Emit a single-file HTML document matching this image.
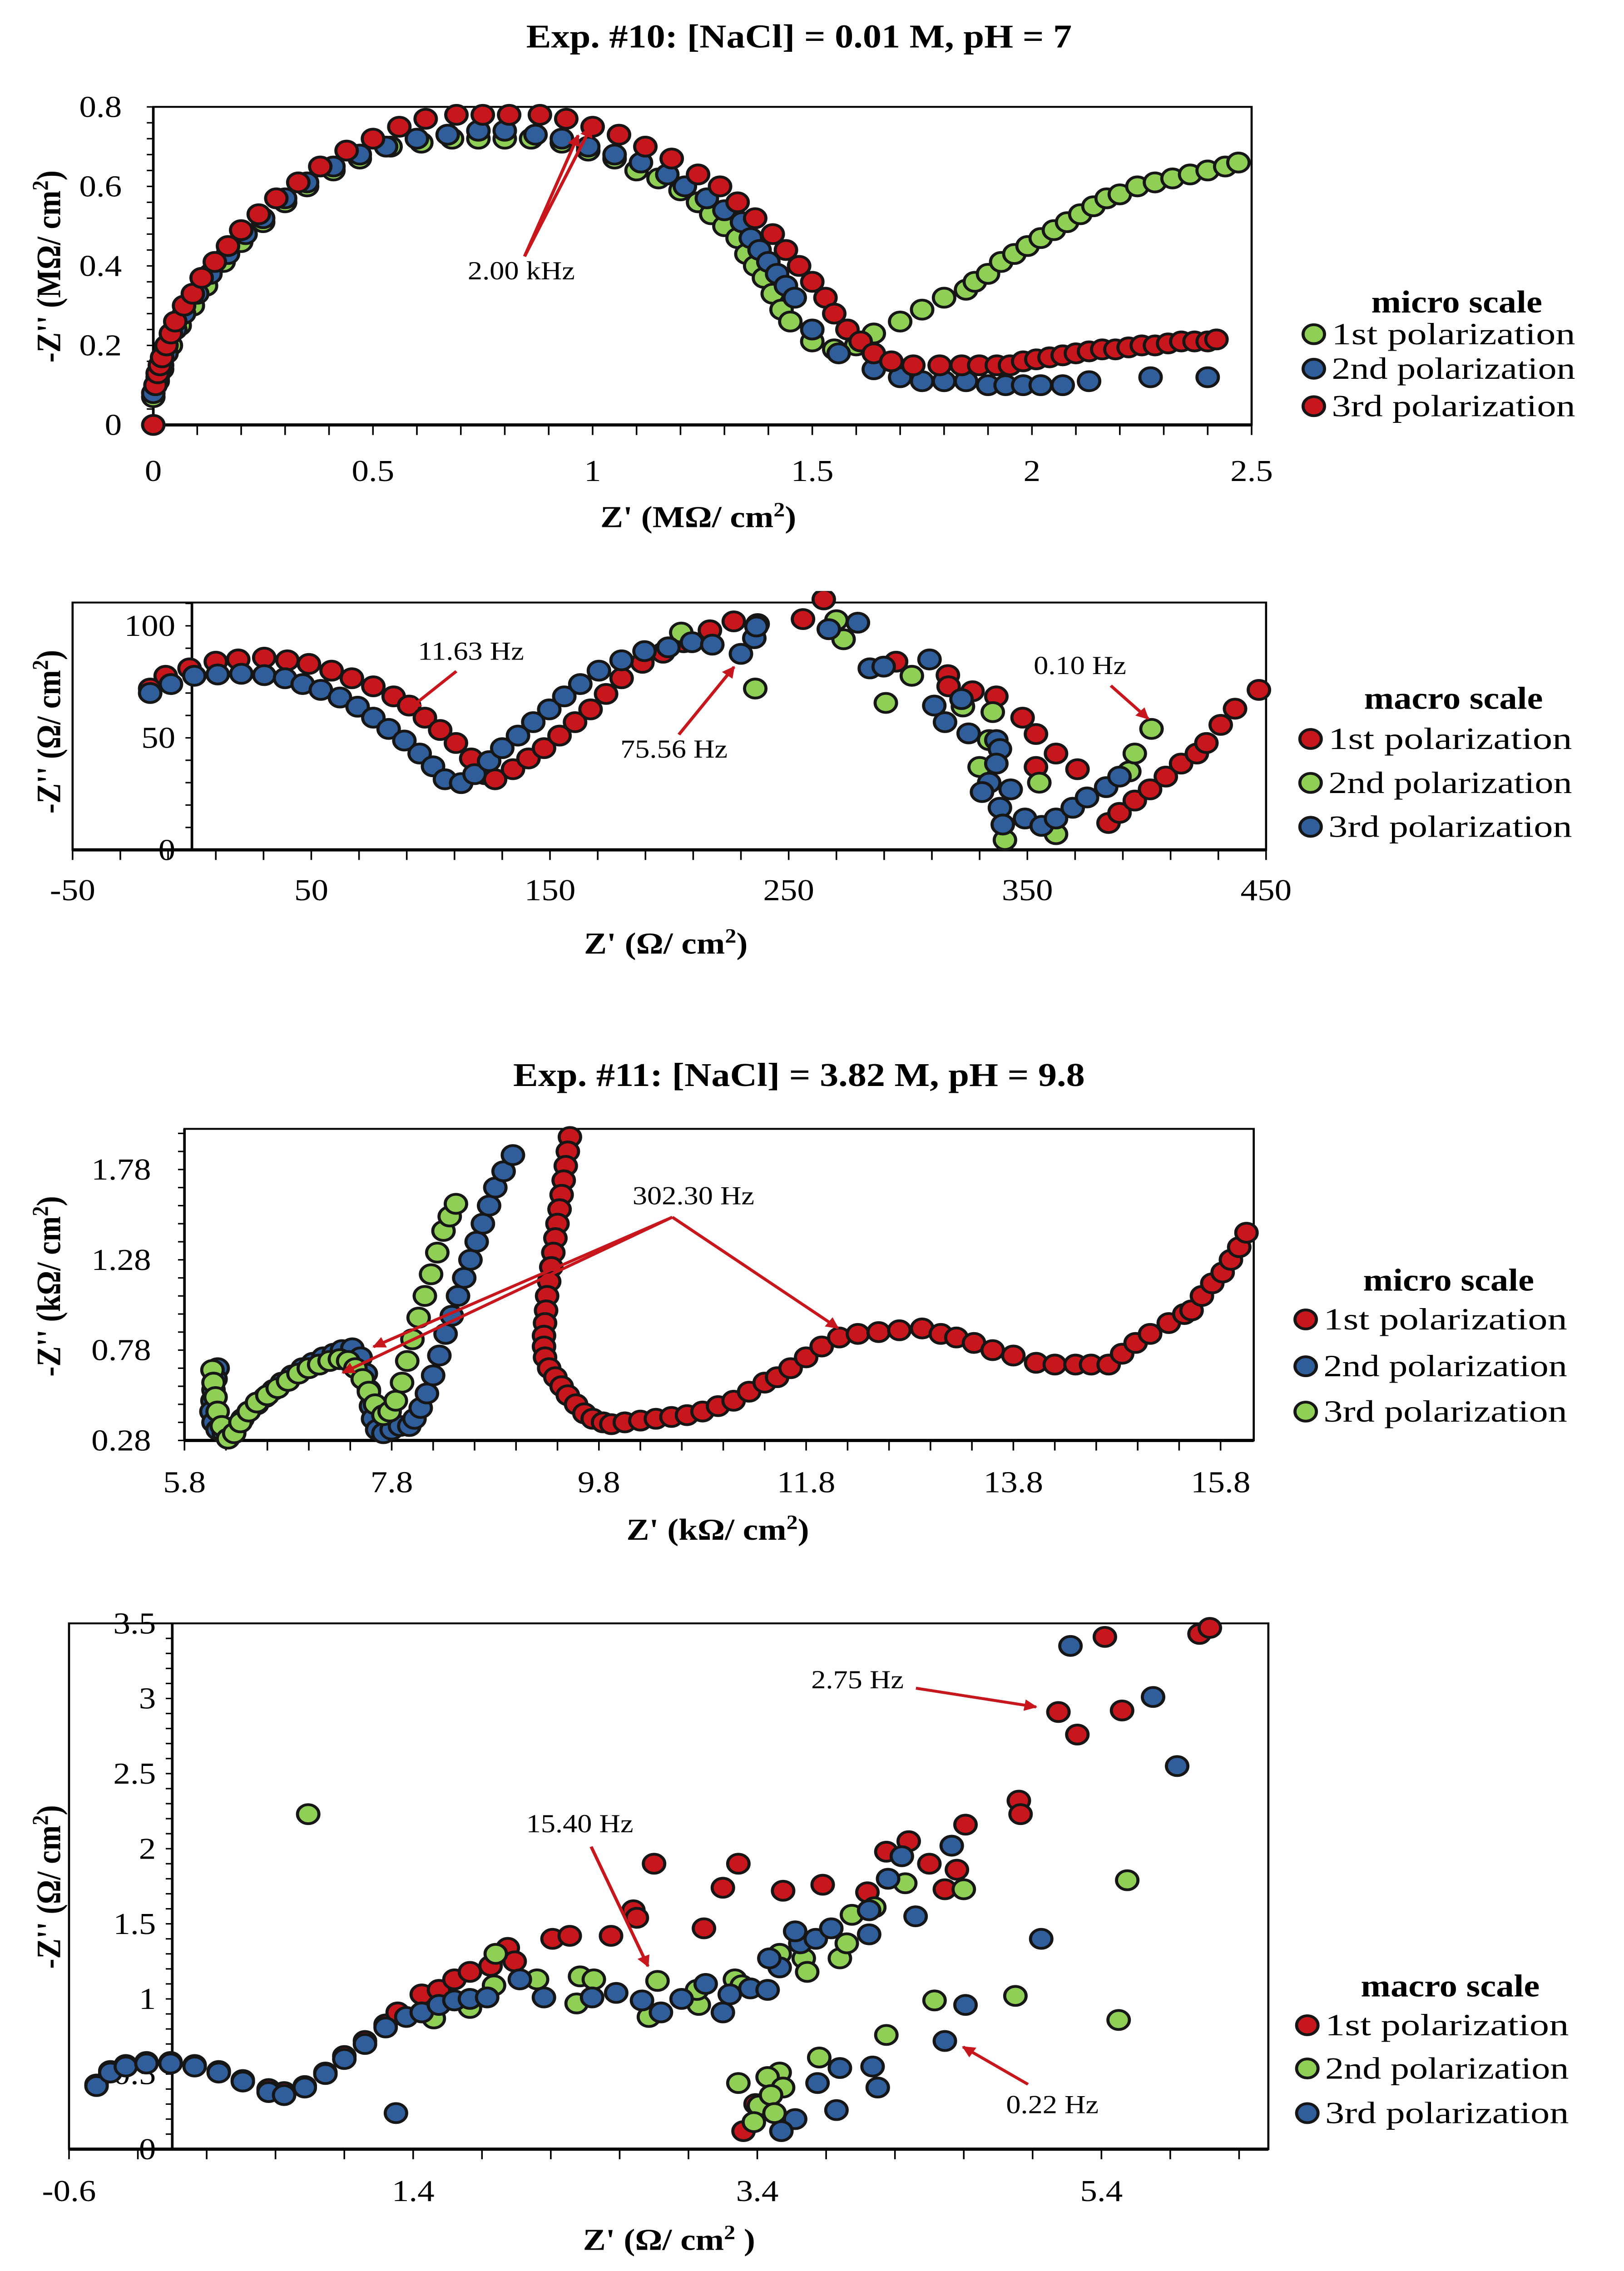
<!DOCTYPE html>
<html><head><meta charset="utf-8"><style>
html,body{margin:0;padding:0;background:#fff;width:100vw;height:100vh;overflow:hidden;}
svg{display:block;position:absolute;left:0;top:0;width:100vw;height:100vh;font-family:"Liberation Serif",serif;}
</style></head><body>
<svg id="fig" viewBox="0 0 1000 1576.6" preserveAspectRatio="none" xmlns="http://www.w3.org/2000/svg">
<rect width="1000" height="1576.6" fill="#fff"/>
<text x="492" y="33" text-anchor="middle" font-size="23" font-weight="bold">Exp. #10: [NaCl] = 0.01 M, pH = 7</text>
<text x="492" y="754" text-anchor="middle" font-size="23" font-weight="bold">Exp. #11: [NaCl] = 3.82 M, pH = 9.8</text>
</svg>
<script>
// ---------- DATA ----------
const c1Green = [[0,0.07],[0.01,0.11],[0.02,0.14],[0.04,0.2],[0.06,0.25],[0.09,0.3],[0.12,0.35],[0.16,0.41],[0.2,0.46],[0.25,0.51],[0.3,0.56],[0.35,0.6],[0.41,0.64],[0.47,0.67],[0.54,0.7],[0.61,0.71],[0.68,0.72],[0.74,0.72],[0.8,0.72],[0.86,0.72],[0.93,0.71],[0.99,0.69],[1.05,0.67],[1.1,0.64],[1.15,0.62],[1.2,0.59],[1.24,0.56],[1.27,0.53],[1.3,0.5],[1.33,0.47],[1.35,0.43],[1.37,0.4],[1.39,0.37],[1.41,0.33],[1.43,0.29],[1.45,0.26],[1.5,0.21],[1.55,0.19],[1.6,0.2],[1.64,0.23],[1.7,0.26],[1.75,0.29],[1.8,0.32],[1.85,0.34],[1.87,0.36],[1.9,0.38],[1.93,0.41],[1.96,0.43],[1.99,0.45],[2.02,0.47],[2.05,0.49],[2.08,0.51],[2.11,0.53],[2.14,0.55],[2.17,0.57],[2.2,0.58],[2.24,0.6],[2.28,0.61],[2.32,0.62],[2.36,0.63],[2.4,0.64],[2.44,0.65],[2.47,0.66]];
const c1Blue = [[0,0.08],[0.005,0.1],[0.01,0.12],[0.02,0.15],[0.03,0.18],[0.05,0.24],[0.07,0.28],[0.1,0.33],[0.13,0.38],[0.17,0.43],[0.21,0.48],[0.25,0.52],[0.3,0.57],[0.35,0.61],[0.41,0.65],[0.47,0.68],[0.53,0.7],[0.6,0.72],[0.67,0.73],[0.74,0.74],[0.8,0.74],[0.87,0.73],[0.93,0.72],[0.99,0.7],[1.05,0.68],[1.11,0.66],[1.17,0.63],[1.21,0.6],[1.26,0.57],[1.3,0.54],[1.34,0.51],[1.36,0.47],[1.38,0.44],[1.4,0.41],[1.42,0.38],[1.44,0.35],[1.46,0.32],[1.5,0.24],[1.56,0.18],[1.64,0.14],[1.7,0.12],[1.75,0.11],[1.8,0.11],[1.85,0.11],[1.9,0.1],[1.94,0.1],[1.98,0.1],[2.02,0.1],[2.07,0.1],[2.13,0.11],[2.27,0.12],[2.4,0.12]];
const c1Red = [[0,0],[0.005,0.1],[0.01,0.13],[0.015,0.15],[0.02,0.17],[0.03,0.2],[0.04,0.23],[0.05,0.26],[0.07,0.3],[0.09,0.33],[0.11,0.37],[0.14,0.41],[0.17,0.45],[0.2,0.49],[0.24,0.53],[0.28,0.57],[0.33,0.61],[0.38,0.65],[0.44,0.69],[0.5,0.72],[0.56,0.75],[0.62,0.77],[0.69,0.78],[0.75,0.78],[0.81,0.78],[0.88,0.78],[0.94,0.77],[1.0,0.75],[1.06,0.73],[1.12,0.7],[1.18,0.67],[1.24,0.63],[1.29,0.6],[1.33,0.56],[1.37,0.52],[1.41,0.48],[1.44,0.44],[1.47,0.4],[1.5,0.36],[1.53,0.32],[1.55,0.28],[1.58,0.24],[1.61,0.21],[1.64,0.18],[1.68,0.16],[1.73,0.15],[1.79,0.15],[1.84,0.15],[1.88,0.15],[1.92,0.15],[1.95,0.15],[1.98,0.16],[2.01,0.165],[2.04,0.17],[2.07,0.175],[2.1,0.18],[2.13,0.185],[2.16,0.19],[2.19,0.19],[2.22,0.195],[2.25,0.2],[2.28,0.2],[2.31,0.205],[2.34,0.21],[2.37,0.21],[2.4,0.21],[2.42,0.215]];
const c1XTicks = ["0","0.5","1","1.5","2","2.5"];
const c1XTickVals = [0,0.5,1,1.5,2,2.5];
const c1YTickVals = [0,0.2,0.4,0.6,0.8];
const c1YTicks = ["0","0.2","0.4","0.6","0.8"];

const c2Red = [[-17.5,72],[-11,77.7],[-1,81],[10,84],[19.4,85],[30.3,85.8],[40,84.6],[49,83],[58.5,80],[67,76.6],[76,73],[84.5,68.5],[91,64.4],[97.6,59],[104,53.5],[110.6,47.7],[117,40.8],[122.7,33.8],[127,31.5],[134.5,36],[141,40.8],[147.5,45.4],[154,51],[160.5,57],[167,62.7],[173.5,69.6],[180,76.6],[188.7,83.5],[197.4,88],[206,92.7],[217,98],[227,102],[237,100.8],[256,103],[264.7,111.8],[284,81],[295,84],[316.7,78],[317,73],[327,70.8],[337,68.5],[348,59],[353.6,51.7],[362,43],[353.6,37],[371,36],[384,12],[388.6,16.5],[395,22],[401.4,27],[408,32.7],[414.4,38.5],[421,43],[425,47.7],[431,55.8],[437,63],[447,71.4]];
const c2Green = [[205,97],[236,72],[270,102.5],[273,94],[290.7,65.6],[301.6,77.7],[323,64],[330,37],[335.5,61.5],[334,49],[340.6,4.4],[362,7],[355,30],[392.7,35],[395,43],[402,54]];
const c2Blue = [[-17.5,70],[-8.8,74],[1,77.7],[10.8,78.3],[20.7,78.6],[30.3,78],[39,76.6],[46.4,74],[54,71.4],[62,68],[69.4,63.9],[76,59],[82.4,54],[89,48.8],[95.4,43],[101,37.3],[106,31.5],[112.8,29.8],[118.4,33.8],[124.5,39.6],[130,45.4],[136.6,51],[143,57],[149.7,62.7],[156,68.5],[162.7,74],[170.5,80],[180,84.6],[189.6,88.7],[199.6,90.4],[209.5,92.7],[218,91.6],[230,87.5],[235.6,94.5],[236.5,99.7],[266.8,98.5],[279,101.4],[284,81],[289.8,81.8],[309,85],[311,64.4],[322.4,67.3],[315.5,57],[325.4,52],[337,49],[338.5,45],[337,38.5],[334,30],[331,25.8],[343,27],[338.5,18.8],[339.7,11.3],[349,14],[356,10.7],[362,14],[369,18.8],[375,23.4],[383,28],[388.6,32.7]];
const c2XTickVals = [-50,50,150,250,350,450];
const c2XTicks = ["-50","50","150","250","350","450"];
const c2YTickVals = [0,50,100];
const c2YTicks = ["0","50","100"];

const c3Red = [[9.52,1.96],[9.5,1.88],[9.48,1.8],[9.46,1.72],[9.44,1.64],[9.42,1.56],[9.4,1.48],[9.38,1.4],[9.36,1.32],[9.34,1.24],[9.32,1.16],[9.3,1.08],[9.29,1.0],[9.28,0.93],[9.27,0.86],[9.27,0.8],[9.28,0.74],[9.32,0.68],[9.38,0.63],[9.44,0.58],[9.5,0.53],[9.58,0.48],[9.66,0.43],[9.74,0.4],[9.84,0.38],[9.92,0.37],[10.05,0.38],[10.2,0.39],[10.35,0.4],[10.5,0.41],[10.65,0.42],[10.8,0.44],[10.95,0.47],[11.1,0.5],[11.25,0.55],[11.4,0.6],[11.52,0.63],[11.65,0.68],[11.8,0.74],[11.95,0.8],[12.12,0.85],[12.3,0.87],[12.5,0.88],[12.7,0.89],[12.92,0.9],[13.1,0.87],[13.25,0.85],[13.42,0.82],[13.6,0.78],[13.8,0.75],[14.02,0.71],[14.2,0.7],[14.4,0.7],[14.55,0.7],[14.72,0.7],[14.85,0.76],[14.98,0.82],[15.12,0.87],[15.3,0.93],[15.45,0.98],[15.52,1.0],[15.62,1.08],[15.72,1.15],[15.82,1.21],[15.9,1.28],[15.98,1.35],[16.05,1.43]];
const c3Blue = [[6.12,0.68],[6.1,0.62],[6.08,0.56],[6.07,0.5],[6.06,0.44],[6.08,0.38],[6.12,0.34],[6.18,0.32],[6.24,0.33],[6.3,0.36],[6.36,0.4],[6.42,0.44],[6.5,0.48],[6.58,0.52],[6.66,0.56],[6.74,0.6],[6.84,0.64],[6.94,0.68],[7.04,0.71],[7.14,0.74],[7.24,0.76],[7.32,0.78],[7.42,0.79],[7.5,0.74],[7.55,0.65],[7.58,0.56],[7.6,0.47],[7.62,0.4],[7.66,0.34],[7.72,0.32],[7.8,0.34],[7.88,0.36],[7.97,0.36],[8.02,0.4],[8.08,0.46],[8.14,0.54],[8.2,0.64],[8.26,0.75],[8.32,0.87],[8.38,0.97],[8.44,1.08],[8.5,1.18],[8.56,1.28],[8.62,1.38],[8.68,1.48],[8.74,1.58],[8.8,1.68],[8.88,1.77],[8.97,1.86]];
const c3Green = [[6.07,0.67],[6.08,0.6],[6.1,0.52],[6.12,0.44],[6.16,0.36],[6.22,0.29],[6.28,0.32],[6.34,0.38],[6.42,0.44],[6.5,0.49],[6.6,0.53],[6.7,0.57],[6.8,0.61],[6.9,0.65],[7.0,0.68],[7.1,0.7],[7.2,0.72],[7.3,0.73],[7.38,0.72],[7.45,0.68],[7.52,0.62],[7.58,0.55],[7.64,0.48],[7.72,0.42],[7.78,0.44],[7.84,0.5],[7.9,0.6],[7.95,0.72],[8.0,0.84],[8.06,0.96],[8.12,1.08],[8.18,1.2],[8.24,1.32],[8.3,1.44],[8.36,1.52],[8.42,1.59]];
const c3XTickVals = [5.8,7.8,9.8,11.8,13.8,15.8];
const c3XTicks = ["5.8","7.8","9.8","11.8","13.8","15.8"];
const c3YTickVals = [0.28,0.78,1.28,1.78];
const c3YTicks = ["0.28","0.78","1.28","1.78"];

const c4Red = [[-0.44,0.43],[-0.36,0.52],[-0.27,0.56],[-0.15,0.58],[-0.01,0.58],[0.13,0.56],[0.27,0.52],[0.41,0.46],[0.56,0.4],[0.65,0.38],[0.77,0.42],[0.89,0.51],[1.0,0.62],[1.12,0.72],[1.24,0.83],[1.31,0.91],[1.45,1.03],[1.55,1.06],[1.64,1.13],[1.73,1.18],[1.85,1.22],[1.95,1.34],[1.99,1.25],[2.21,1.4],[2.31,1.42],[2.55,1.42],[2.68,1.59],[2.7,1.54],[2.8,1.9],[3.2,1.74],[3.09,1.47],[3.29,1.9],[3.55,1.72],[3.78,1.76],[4.04,1.71],[4.15,1.98],[4.28,2.05],[4.4,1.9],[4.49,1.73],[4.56,1.86],[4.61,2.16],[4.92,2.32],[4.93,2.23],[5.15,2.91],[5.26,2.76],[5.42,3.41],[5.52,2.92],[5.97,3.43],[6.03,3.47],[3.32,0.12],[3.39,0.3]];
const c4Green = [[0.79,2.23],[5.55,1.79],[5.5,0.86],[4.9,1.02],[4.43,0.99],[4.6,1.73],[4.26,1.77],[4.15,0.76],[3.76,0.61],[3.53,0.51],[3.46,0.48],[3.29,0.44],[3.55,0.41],[3.41,0.29],[3.48,0.36],[3.38,0.18],[3.5,0.24],[1.88,1.3],[1.87,1.09],[1.73,0.94],[1.52,0.87],[2.12,1.13],[2.37,1.15],[2.45,1.13],[2.35,0.97],[2.82,1.12],[2.77,0.88],[3.06,0.96],[3.05,1.06],[3.27,1.13],[3.31,1.09],[3.53,1.3],[3.67,1.27],[3.69,1.18],[3.88,1.27],[3.92,1.37],[3.95,1.56],[4.08,1.61]];
const c4Blue = [[-0.44,0.42],[-0.36,0.51],[-0.27,0.55],[-0.15,0.57],[-0.01,0.57],[0.13,0.55],[0.27,0.51],[0.41,0.45],[0.56,0.38],[0.65,0.36],[0.77,0.41],[0.89,0.5],[1.0,0.6],[1.12,0.7],[1.24,0.81],[1.36,0.88],[1.45,0.91],[1.55,0.96],[1.64,0.99],[1.73,1.0],[1.83,1.01],[2.02,1.13],[2.16,1.01],[2.44,1.01],[2.58,1.04],[2.73,0.99],[2.84,0.91],[2.96,1.0],[3.1,1.1],[3.2,0.91],[3.24,1.03],[3.36,1.07],[3.46,1.06],[3.53,1.21],[3.47,1.27],[3.65,1.37],[3.62,1.45],[3.74,1.4],[3.83,1.47],[4.05,1.59],[4.16,1.8],[4.24,1.95],[4.32,1.55],[4.53,2.02],[1.3,0.24],[5.22,3.35],[5.7,3.01],[5.84,2.55],[5.05,1.4],[4.61,0.96],[4.49,0.72],[4.07,0.55],[4.1,0.41],[3.88,0.54],[3.86,0.26],[3.75,0.44],[3.62,0.2],[3.54,0.12],[4.05,1.43]];
const c4XTickVals = [-0.6,1.4,3.4,5.4];
const c4XTicks = ["-0.6","1.4","3.4","5.4"];
const c4YTickVals = [0,0.5,1,1.5,2,2.5,3,3.5];
const c4YTicks = ["0","0.5","1","1.5","2","2.5","3","3.5"];

// ---------- DRAWING ----------
const NS = "http://www.w3.org/2000/svg";
const svg = document.getElementById('fig');
const COL = {green:"#8fcf55", blue:"#2f5e9a", red:"#c8161d"};
function mk(tag, attrs, parent){const e=document.createElementNS(NS,tag);for(const k in attrs)e.setAttribute(k,attrs[k]);(parent||svg).appendChild(e);return e;}
function txt(s, attrs, parent){const e=mk('text',attrs,parent);e.textContent=s;return e;}

function chart(cfg){
  const g = mk('g',{});
  
  
  const sx = v => cfg.px0 + (v - cfg.xmin)/(cfg.xmax - cfg.xmin)*(cfg.px1 - cfg.px0);
  const sy = v => cfg.py1 - (v - cfg.ymin)/(cfg.ymax - cfg.ymin)*(cfg.py1 - cfg.py0);
  const frame = mk('rect',{x:cfg.px0,y:cfg.py0,width:cfg.px1-cfg.px0,height:cfg.py1-cfg.py0,fill:'none',stroke:'#000','stroke-width':1.3},g);
  
  
  const xa = mk('line',{x1:cfg.px0,x2:cfg.px1,y1:cfg.py1,y2:cfg.py1,stroke:'#000','stroke-width':2.2},g);
  
  
  const yx = sx(cfg.yAxisAt);
  const ya = mk('line',{x1:yx,x2:yx,y1:cfg.py0,y2:cfg.py1,stroke:'#000','stroke-width':1.6},g);
  
  
  for(let v=cfg.xTickStart; v<=cfg.xmax+1e-9; v+=cfg.xMinor){
    mk('line',{x1:sx(v),x2:sx(v),y1:cfg.py1,y2:cfg.py1+7,stroke:'#000','stroke-width':1},g);
  }
  for(let v=cfg.ymin; v<=cfg.ymax+1e-9; v+=cfg.yMinor){
    mk('line',{x1:yx-4,x2:yx,y1:sy(v),y2:sy(v),stroke:'#000','stroke-width':1},g);
  }
  cfg.xTickVals.forEach((v,i)=>{
    const t = txt(cfg.xTicks[i],{x:sx(v),y:cfg.py1+cfg.xLabOff,'text-anchor':'middle','font-size':21},g);
    
    
  });
  cfg.yTickVals.forEach((v,i)=>{
    const t = txt(cfg.yTicks[i],{x:cfg.yLabX,y:sy(v)+7,'text-anchor':'end','font-size':21},g);
    
    
  });
  const xt = txt('',{x:cfg.xTitleX,y:cfg.xTitleY,'text-anchor':'middle','font-size':21,'font-weight':'bold'},g);
  xt.innerHTML = cfg.xTitle;
  
  
  const yt = txt('',{x:0,y:0,'text-anchor':'middle','font-size':21,'font-weight':'bold',transform:`translate(${cfg.yTitleX},${cfg.yTitleY}) rotate(-90)`},g);
  yt.innerHTML = cfg.yTitle;
  
  
  const clipId = 'clip'+cfg.name;
  const cp = mk('clipPath',{id:clipId},g);
  mk('rect',{x:cfg.px0-8,y:cfg.py0-8,width:cfg.px1-cfg.px0+16,height:cfg.py1-cfg.py0+16},cp);
  cfg.series.forEach(s=>{
    const sg = mk('g',{'clip-path':`url(#${clipId})`},g);
    
    
    s.data.forEach(p=>{
      const c = mk('circle',{cx:sx(p[0]),cy:sy(p[1]),r:6.6,fill:COL[s.color],stroke:'#161616','stroke-width':1.9},sg);
      
      
    });
  });
  const lg = mk('g',{},g);
  
  
  const lh = txt(cfg.legTitle,{x:cfg.legX+88,y:cfg.legTitleY,'text-anchor':'middle','font-size':22,'font-weight':'bold'},lg);
  
  
  cfg.legend.forEach((s,i)=>{
    const y = cfg.legYs[i];
    const c = mk('circle',{cx:cfg.legX,cy:y,r:6.6,fill:COL[s.color],stroke:'#161616','stroke-width':1.9},lg);
    
    
    const t = txt(s.label,{x:cfg.legX+11,y:y+7,'font-size':21.5,textLength:150,lengthAdjust:'spacingAndGlyphs'},lg);
    
    
  });
}

chart({name:'chart-exp10-micro',px0:94.4,px1:770.7,py0:74.2,py1:295,xmin:0,xmax:2.5,ymin:0,ymax:0.8,yAxisAt:0,
  xTickStart:0,xMinor:0.1,yMinor:0.04,xTickVals:c1XTickVals,xTicks:c1XTicks,yTickVals:c1YTickVals,yTicks:c1YTicks,
  xLabOff:39,yLabX:75,xTitle:"Z' (MΩ/ cm<tspan baseline-shift='super' font-size='14'>2</tspan>)",xTitleX:430,xTitleY:366,
  yTitle:"-Z'' (MΩ/ cm<tspan baseline-shift='super' font-size='14'>2</tspan>)",yTitleX:37,yTitleY:185,
  series:[{label:'1st polarization',color:'green',data:c1Green},{label:'2nd polarization',color:'blue',data:c1Blue},{label:'3rd polarization',color:'red',data:c1Red}],
  legend:[{label:'1st polarization',color:'green'},{label:'2nd polarization',color:'blue'},{label:'3rd polarization',color:'red'}],
  legTitle:'micro scale',legX:809,legTitleY:217,legYs:[232,256,282]});

chart({name:'chart-exp10-macro',px0:44.7,px1:779.6,py0:418.3,py1:590,xmin:-50,xmax:450,ymin:0,ymax:110.4,yAxisAt:0,
  xTickStart:-50,xMinor:20,yMinor:10,xTickVals:c2XTickVals,xTicks:c2XTicks,yTickVals:c2YTickVals,yTicks:c2YTicks,
  xLabOff:35,yLabX:108,xTitle:"Z' (Ω/ cm<tspan baseline-shift='super' font-size='14'>2</tspan>)",xTitleX:410,xTitleY:662,
  yTitle:"-Z'' (Ω/ cm<tspan baseline-shift='super' font-size='14'>2</tspan>)",yTitleX:37,yTitleY:508,
  series:[{label:'1st polarization',color:'red',data:c2Red},{label:'2nd polarization',color:'green',data:c2Green},{label:'3rd polarization',color:'blue',data:c2Blue}],
  legend:[{label:'1st polarization',color:'red'},{label:'2nd polarization',color:'green'},{label:'3rd polarization',color:'blue'}],
  legTitle:'macro scale',legX:807,legTitleY:492,legYs:[513,543.5,574]});

chart({name:'chart-exp11-micro',px0:113.6,px1:772,py0:783.7,py1:1000,xmin:5.8,xmax:16.12,ymin:0.28,ymax:2.005,yAxisAt:5.8,
  xTickStart:5.8,xMinor:0.4,yMinor:0.1,xTickVals:c3XTickVals,xTicks:c3XTicks,yTickVals:c3YTickVals,yTicks:c3YTicks,
  xLabOff:36,yLabX:93,xTitle:"Z' (kΩ/ cm<tspan baseline-shift='super' font-size='14'>2</tspan>)",xTitleX:442,xTitleY:1069,
  yTitle:"-Z'' (kΩ/ cm<tspan baseline-shift='super' font-size='14'>2</tspan>)",yTitleX:37,yTitleY:893,
  series:[{label:'1st polarization',color:'red',data:c3Red},{label:'2nd polarization',color:'blue',data:c3Blue},{label:'3rd polarization',color:'green',data:c3Green}],
  legend:[{label:'1st polarization',color:'red'},{label:'2nd polarization',color:'blue'},{label:'3rd polarization',color:'green'}],
  legTitle:'micro scale',legX:804,legTitleY:896,legYs:[916,948.5,980]});

chart({name:'chart-exp11-macro',px0:42.5,px1:781,py0:1127,py1:1492,xmin:-0.6,xmax:6.37,ymin:0,ymax:3.5,yAxisAt:0,
  xTickStart:-0.6,xMinor:0.4,yMinor:0.1,xTickVals:c4XTickVals,xTicks:c4XTicks,yTickVals:c4YTickVals,yTicks:c4YTicks,
  xLabOff:36,yLabX:96,xTitle:"Z' (Ω/ cm<tspan baseline-shift='super' font-size='14'>2</tspan> )",xTitleX:412,xTitleY:1562,
  yTitle:"-Z'' (Ω/ cm<tspan baseline-shift='super' font-size='14'>2</tspan>)",yTitleX:37,yTitleY:1310,
  series:[{label:'1st polarization',color:'red',data:c4Red},{label:'2nd polarization',color:'green',data:c4Green},{label:'3rd polarization',color:'blue',data:c4Blue}],
  legend:[{label:'1st polarization',color:'red'},{label:'2nd polarization',color:'green'},{label:'3rd polarization',color:'blue'}],
  legTitle:'macro scale',legX:805,legTitleY:1386,legYs:[1406,1436,1467]});

// ---------- ANNOTATIONS ----------
const defs = mk('defs',{});
const mkr = mk('marker',{id:'ah',viewBox:'0 0 10 10',refX:9,refY:5,markerWidth:4,markerHeight:4,orient:'auto'},defs);
mk('path',{d:'M0,0 L10,5 L0,10 Z',fill:'#c8161d'},mkr);
function arrow(name,x1,y1,x2,y2){
  const l = mk('line',{x1:x1,y1:y1,x2:x2,y2:y2,stroke:'#c8161d','stroke-width':2,'marker-end':'url(#ah)'});
  
  
}
function label(name,s,x,y){
  const t = txt(s,{x:x,y:y,'text-anchor':'middle','font-size':18});
  
  
}
label('annotation-2khz','2.00 kHz',321,194);
arrow('arrow-2khz-a',323,178,356,94);
arrow('arrow-2khz-b',323,178,364,88);
label('annotation-11hz','11.63 Hz',290,458);
arrow('arrow-11hz',281,466,252,492);
label('annotation-75hz','75.56 Hz',415,526);
arrow('arrow-75hz',418,510,452,463);
label('annotation-010hz','0.10 Hz',665,468);
arrow('arrow-010hz',684,476,707,499);
label('annotation-302hz','302.30 Hz',427,836);
arrow('arrow-302hz-a',414,845,211,953);
arrow('arrow-302hz-b',414,845,230,935);
arrow('arrow-302hz-c',414,845,516,922);
label('annotation-275hz','2.75 Hz',528,1172);
arrow('arrow-275hz',564,1172,638,1185);
label('annotation-1540hz','15.40 Hz',357,1272);
arrow('arrow-1540hz',364,1282,399,1365);
label('annotation-022hz','0.22 Hz',648,1467);
arrow('arrow-022hz',633,1447,593,1421);
</script>
</body></html>
